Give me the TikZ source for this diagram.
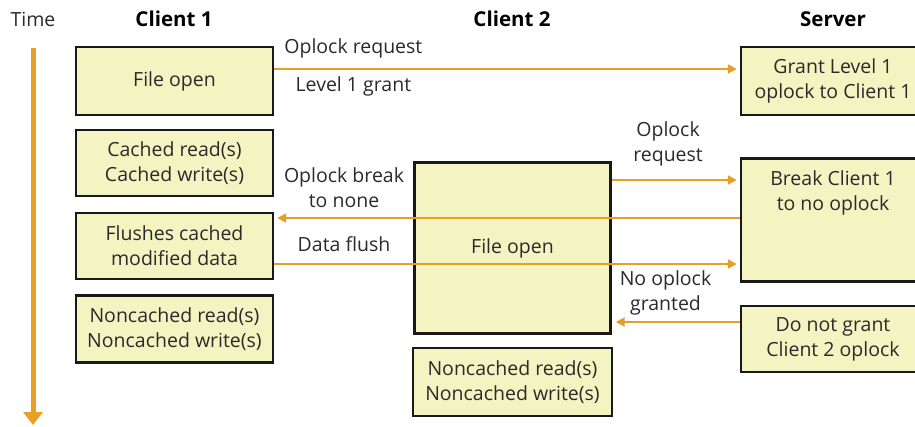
\documentclass[tikz,border=0pt]{standalone}
\usepackage{fontspec}
\setmainfont{Open Sans}
\usetikzlibrary{arrows.meta}
\definecolor{boxfill}{HTML}{F4F4C2}
\definecolor{flowline}{HTML}{E8A024}
\definecolor{inktext}{HTML}{2A2A2A}

\begin{document}
\begin{tikzpicture}[x=1pt,y=-1pt,
    every node/.style={font=\fontsize{19.5}{25}\selectfont,text=inktext},
    head/.style={font=\fontsize{20.5}{25}\selectfont\bfseries,text=black},
    evtbox/.style={draw=black!90,fill=boxfill,line width=2.4pt,align=center,inner sep=0pt,minimum width=197pt},
    msg/.style={align=center},
    flow/.style={draw=flowline,line width=2.6pt,-{Triangle[length=9pt,width=9pt]},shorten >=3pt}]
        \useasboundingbox (0,0) rectangle (915,426);
        \clip (0,0) rectangle (915,426);
        % column heads
        \node (time) at (33,19) {Time};
        \node[head] (hc1) at (174,19) {Client 1};
        \node[head] (hc2) at (512,19) {Client 2};
        \node[head] (hsrv) at (833,19) {Server};
        % time axis
        \coordinate (tstart) at (33,48);
        \coordinate (tend) at (33,425);
        \draw[draw=flowline,line width=5pt,-{Triangle[length=13pt,width=19pt]}] (tstart) -- (tend);
        % client 1
        \node[evtbox,minimum height=68pt] (c1open) at (174.5,81) {File open};
        \node[evtbox,minimum height=66pt] (c1cache) at (174.5,163) {Cached read(s)\\Cached write(s)};
        \node[evtbox,minimum height=66pt] (c1flush) at (174.5,246) {Flushes cached\\modified data};
        \node[evtbox,minimum height=67pt] (c1nocache) at (174.5,329) {Noncached read(s)\\Noncached write(s)};
        % client 2
        \node[evtbox,minimum width=196pt,minimum height=171pt] (c2open) at (512.5,248) {File open};
        \node[evtbox,minimum width=199pt,minimum height=68pt] (c2nocache) at (512.5,382) {Noncached read(s)\\Noncached write(s)};
        % server
        \node[evtbox,minimum width=184pt,minimum height=68pt] (sgrant) at (833,81) {Grant Level 1\\oplock to Client 1};
        \node[evtbox,minimum width=184pt,minimum height=123pt] (sbreak) at (833,220) {};
        \node[msg] (sbreaktext) at (833,193) {Break Client 1\\to no oplock};
        \node[evtbox,minimum width=184pt,minimum height=66pt] (sdeny) at (833,339) {Do not grant\\Client 2 oplock};
        % messages
        \draw[flow] ([yshift=12]c1open.east) -- ([yshift=12]c1open.east -| sgrant.west)
            node[msg,pos=0.17,yshift=21pt] {Oplock request}
            node[msg,pos=0.17,yshift=-17pt] {Level 1 grant};
        \draw[flow] ([yshift=68]c2open.east) -- ([yshift=68]c2open.east -| sbreak.west)
            node[msg,pos=0.44,yshift=36pt] {Oplock\\request};
        \draw[flow] ([yshift=2]sbreak.west) -- ([yshift=2]sbreak.west -| c1flush.east)
            node[msg,pos=0.85,yshift=30.5pt] {Oplock break\\to none};
        \draw[flow] ([yshift=-18]c1flush.east) -- ([yshift=-18]c1flush.east -| sbreak.west)
            node[msg,pos=0.15,yshift=20pt] {Data flush};
        \draw[flow,shorten >=4pt] ([yshift=17]sdeny.west) -- ([yshift=17]sdeny.west -| c2open.east)
            node[msg,pos=0.58,yshift=29pt] {No oplock\\granted};
    \end{tikzpicture}
\end{document}
